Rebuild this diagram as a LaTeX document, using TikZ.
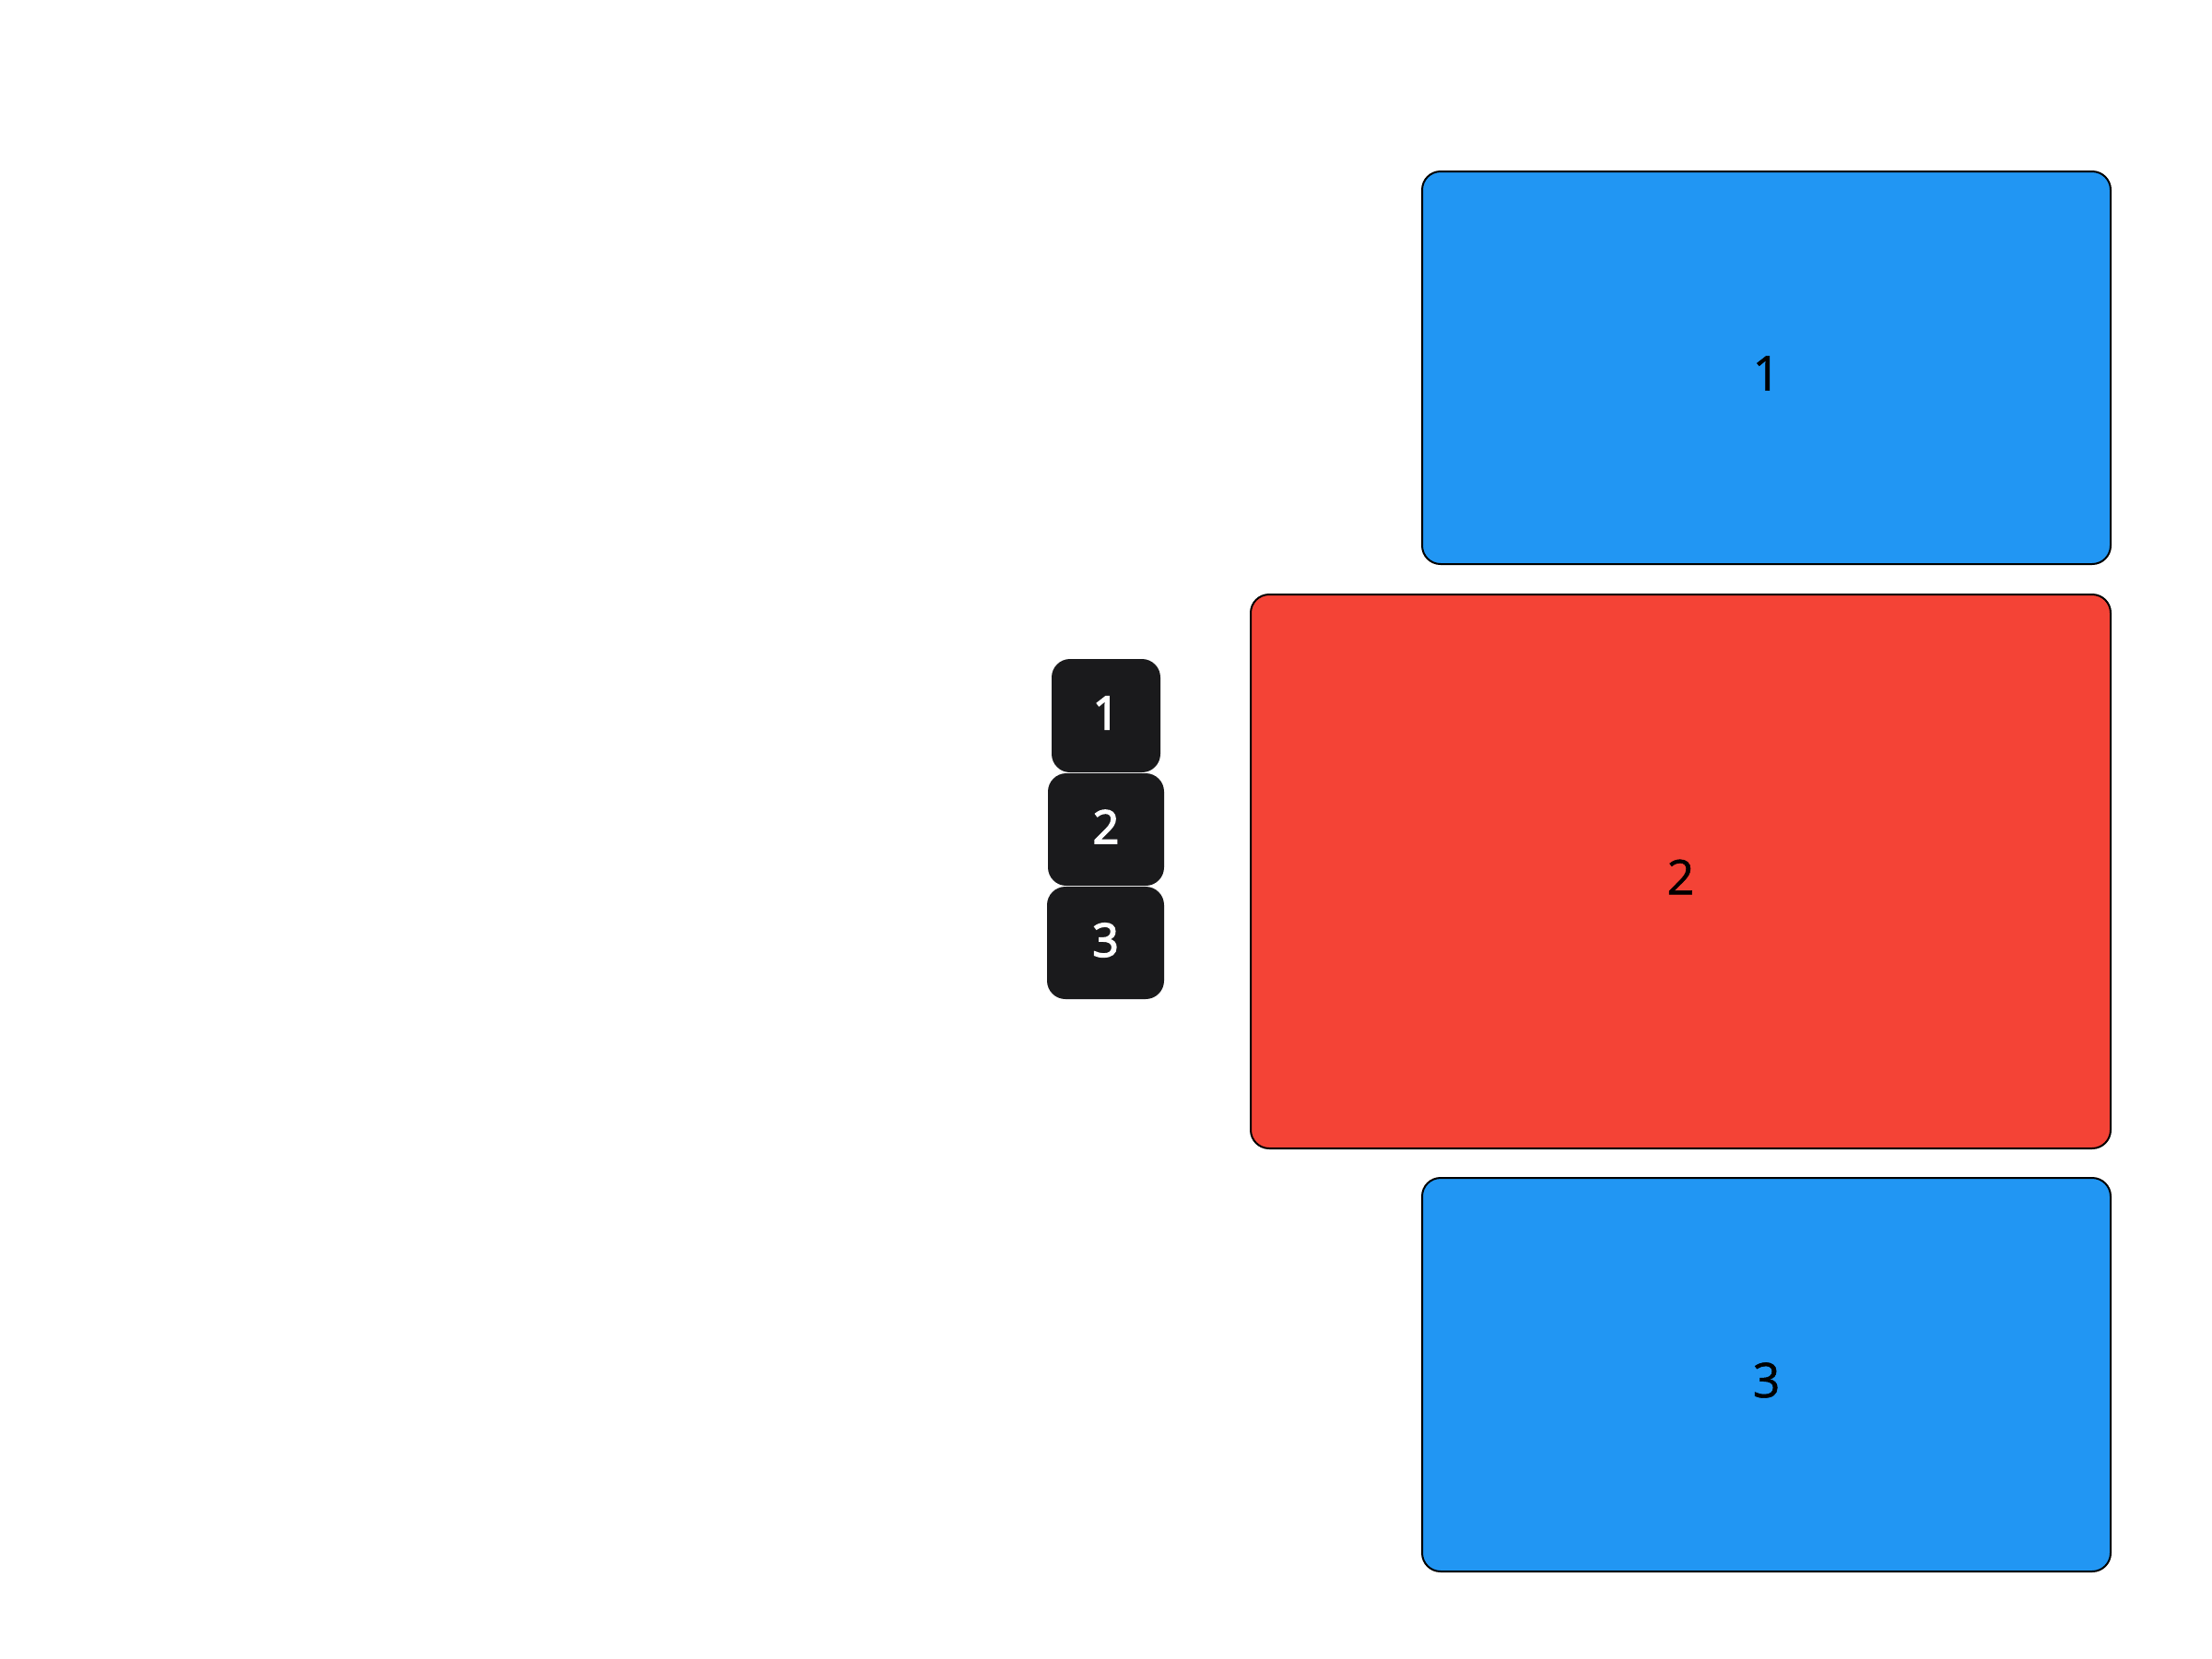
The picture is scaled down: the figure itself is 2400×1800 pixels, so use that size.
\documentclass[tikz,border=0pt]{standalone}
\usepackage{fontspec}
\setmainfont{Open Sans}
\newfontfamily\tabfont[FakeBold=3]{Open Sans}
\newfontfamily\boxfont[FakeBold=1]{Open Sans}
\definecolor{bluebox}{HTML}{2196F3}
\definecolor{redbox}{HTML}{F44336}
\definecolor{darkbox}{HTML}{1A1A1C}
\begin{document}
\begin{tikzpicture}[x=0.5pt,y=-0.5pt,
  bigbox/.style={draw=black,line width=1pt,rounded corners=10pt,inner sep=0pt},
  tabbox/.style={fill=darkbox,rounded corners=10pt,inner sep=0pt},
  boxlabel/.style={font=\boxfont\fontsize{26}{30}\selectfont,text=black},
  tablabel/.style={font=\tabfont\fontsize{25}{30}\selectfont,text=white}]
\useasboundingbox (0,0) rectangle (2400,1800);
\node[bigbox,fill=bluebox,minimum width=373.5pt,minimum height=213pt] (b1) at (1916.5,399) {};
\node[bigbox,fill=redbox,minimum width=466.5pt,minimum height=300.5pt] (b2) at (1823.5,945.5) {};
\node[bigbox,fill=bluebox,minimum width=373.5pt,minimum height=213.5pt] (b3) at (1916.5,1491.5) {};
\node[boxlabel] (l1) at ([yshift=-3pt]b1.center) {1};
\node[boxlabel] (l2) at ([yshift=-3pt]b2.center) {2};
\node[boxlabel] (l3) at ([yshift=-3pt]b3.center) {3};
\node[tabbox,minimum width=59pt,minimum height=61.5pt] (t1) at (1200,776.5) {};
\node[tabbox,minimum width=63pt,minimum height=61pt] (t2) at (1200,900) {};
\node[tabbox,minimum width=63.5pt,minimum height=61pt] (t3) at (1199.5,1023) {};
\node[tablabel] (m1) at ([yshift=1.5pt]t1.center) {1};
\node[tablabel] (m2) at ([yshift=1.5pt]t2.center) {2};
\node[tablabel] (m3) at ([yshift=1.5pt]t3.center) {3};
\end{tikzpicture}
\end{document}
